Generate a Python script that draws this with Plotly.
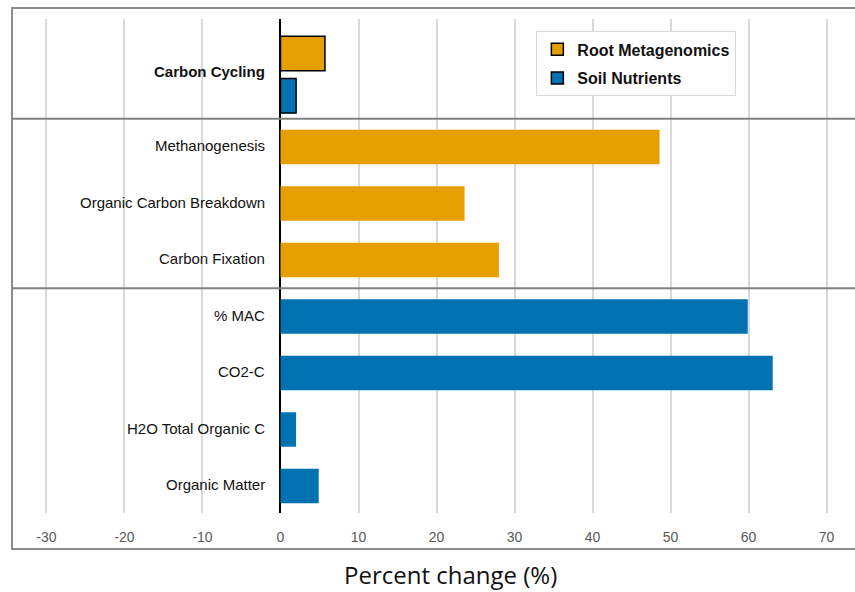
import plotly.graph_objects as go

# Percent change in carbon-related measures
summary_label = "Carbon Cycling"
summary_root = 5.7
summary_soil = 2.0

root_labels = ["Methanogenesis", "Organic Carbon Breakdown", "Carbon Fixation"]
root_values = [48.6, 23.6, 28.0]

soil_labels = ["% MAC", "CO2-C", "H2O Total Organic C", "Organic Matter"]
soil_values = [59.9, 63.1, 2.0, 4.9]

series_names = ["Root Metagenomics", "Soil Nutrients"]
x_ticks = [-30, -20, -10, 0, 10, 20, 30, 40, 50, 60, 70]

ORANGE = "#E69F00"
BLUE = "#0072B2"
LABEL_FONT = "Liberation Sans, Arial, sans-serif"

# Row positions (bottom to top): soil rows, then root rows, then the summary row
n_soil = len(soil_labels)
n_root = len(root_labels)
soil_pos = [n_soil - 1 - i for i in range(n_soil)]
root_pos = [n_soil + n_root - 1 - i for i in range(n_root)]
summary_pos = n_soil + n_root + 0.28
pair_offset = 0.375
bar_w = 0.61

fig = go.Figure()

# Summary pair with outlines (these also feed the legend)
fig.add_trace(go.Bar(
    x=[summary_root], y=[summary_pos + pair_offset], orientation="h",
    width=bar_w, name=series_names[0], legendgroup="a",
    marker=dict(color=ORANGE, line=dict(color="black", width=1.5)),
))
fig.add_trace(go.Bar(
    x=[summary_soil], y=[summary_pos - pair_offset], orientation="h",
    width=bar_w, name=series_names[1], legendgroup="b",
    marker=dict(color=BLUE, line=dict(color="black", width=1.5)),
))

# Detail rows
fig.add_trace(go.Bar(
    x=root_values, y=root_pos, orientation="h", width=bar_w,
    showlegend=False, marker=dict(color=ORANGE, line=dict(width=0)),
))
fig.add_trace(go.Bar(
    x=soil_values, y=soil_pos, orientation="h", width=bar_w,
    showlegend=False, marker=dict(color=BLUE, line=dict(width=0)),
))

# Row labels sit just left of the zero line
annotations = []
for lbl, pos in zip(root_labels + soil_labels, root_pos + soil_pos):
    annotations.append(dict(
        x=0, y=pos, xref="x", yref="y", text=lbl, showarrow=False,
        xanchor="right", xshift=-13, yshift=1,
        font=dict(family=LABEL_FONT, size=15, color="#111111"),
    ))
annotations.append(dict(
    x=0, y=summary_pos, xref="x", yref="y", text="<b>" + summary_label + "</b>",
    showarrow=False, xanchor="right", xshift=-13, yshift=3,
    font=dict(family=LABEL_FONT, size=15, color="#111111"),
))
annotations.append(dict(
    x=0.52, y=-0.125, xref="paper", yref="paper", text="Percent change (%)",
    showarrow=False, xanchor="center", yanchor="middle",
    font=dict(family="Open Sans, sans-serif", size=24, color="#111111"),
))

shapes = [
    # outer frame
    dict(type="rect", xref="paper", yref="paper", x0=0, x1=1.02,
         y0=-36 / 494, y1=1 + 11 / 494, line=dict(color="#8c8c8c", width=2)),
    # group separators
    dict(type="line", xref="paper", yref="y", x0=0, x1=1.02,
         y0=n_soil + n_root - 0.5, y1=n_soil + n_root - 0.5,
         line=dict(color="#808080", width=2)),
    dict(type="line", xref="paper", yref="y", x0=0, x1=1.02,
         y0=n_soil - 0.5, y1=n_soil - 0.5, line=dict(color="#808080", width=2)),
]

fig.update_layout(
    width=855, height=592,
    margin=dict(l=12, r=0, t=19, b=79),
    paper_bgcolor="white", plot_bgcolor="white",
    barmode="overlay",
    showlegend=True,
    legend=dict(
        x=0.622, y=0.975, xanchor="left", yanchor="top",
        bgcolor="white", bordercolor="#d9d9d9", borderwidth=1,
        font=dict(family=LABEL_FONT, size=16, color="#111111", weight="bold"),
        traceorder="grouped", tracegroupgap=5,
        itemwidth=30,
    ),
    xaxis=dict(
        range=[-34.42, 73.65], tickvals=x_ticks,
        ticktext=[str(v) for v in x_ticks], showgrid=True,
        gridcolor="#d9d9d9", gridwidth=1.5, zeroline=True, zerolinecolor="black",
        zerolinewidth=2, ticks="outside", ticklen=11, tickcolor="rgba(0,0,0,0)",
        tickfont=dict(family=LABEL_FONT, size=14, color="#595959"),
        showline=False,
    ),
    yaxis=dict(
        range=[-0.478, 8.265], showticklabels=False, showgrid=False,
        zeroline=False, showline=False, ticks="",
    ),
    annotations=annotations,
    shapes=shapes,
)

fig.write_html("out.html")
